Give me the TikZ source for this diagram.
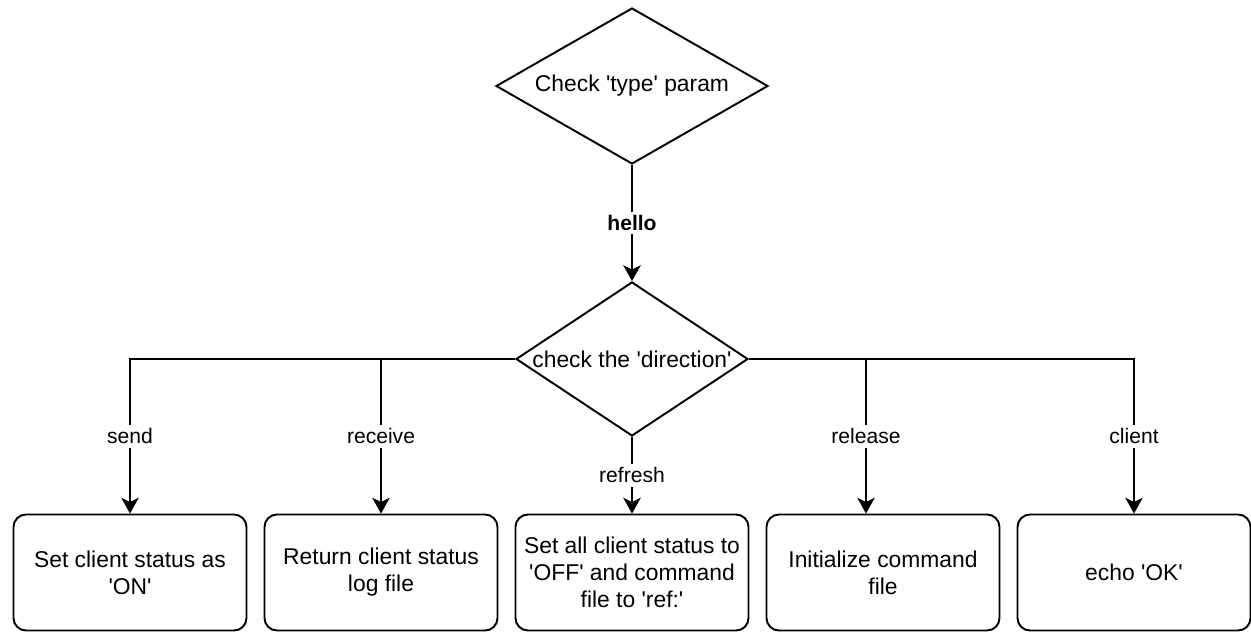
\documentclass[tikz,border=0pt]{standalone}
\usepackage{fontspec}
\setmainfont{Liberation Sans}[Ligatures=TeXOff]
\usetikzlibrary{shapes.geometric,positioning,arrows.meta}

\begin{document}
\begin{tikzpicture}[>={Stealth[length=9pt,width=10pt,inset=2.5pt]}, line width=1.1pt, on grid, node distance=5.02cm,
    decision/.style={diamond, draw, inner sep=0pt, font=\fontsize{13}{15.4}\selectfont},
    task/.style={rectangle, draw, rounded corners=0.25cm, minimum width=4.66cm, minimum height=2.32cm, align=center, font=\fontsize{13}{15.4}\selectfont},
    lbl/.style={fill=white, inner sep=2pt, font=\fontsize{12}{14}\selectfont}]
   \useasboundingbox (0,0) rectangle (25.02,-12.64);
   \node[decision, shape aspect=1.74, minimum width=5.44cm, minimum height=3.12cm] (type) at (12.64,-1.72) {Check 'type' param};
   \node[decision, shape aspect=1.5, minimum width=4.64cm, minimum height=3.08cm] (dir) [below=5.46cm of type] {check the 'direction'};
   \node[task] (refr) [below=4.27cm of dir] {Set all client status to\\'OFF' and command\\file to 'ref:'};
   \node[task] (recv) [left=of refr] {Return client status\\log file};
   \node[task] (send) [left=of recv] {Set client status as\\'ON'};
   \node[task] (rel) [right=of refr] {Initialize command\\file};
   \node[task] (cli) [right=of rel] {echo 'OK'};
   \coordinate (relin) at ([xshift=-0.34cm]rel.north);
   \draw[->] (type) -- node[lbl] {\bfseries hello} (dir);
   \draw[->] (dir.west) -| node[lbl, pos=0.75] {send} (send);
   \draw[->] (dir.west) -| node[lbl, pos=0.75] {receive} (recv);
   \draw[->] (dir) -- node[lbl] {refresh} (refr);
   \draw[->] (dir.east) -| node[lbl, pos=0.75] {release} (relin);
   \draw[->] (dir.east) -| node[lbl, pos=0.75] {client} (cli);
\end{tikzpicture}
\end{document}
